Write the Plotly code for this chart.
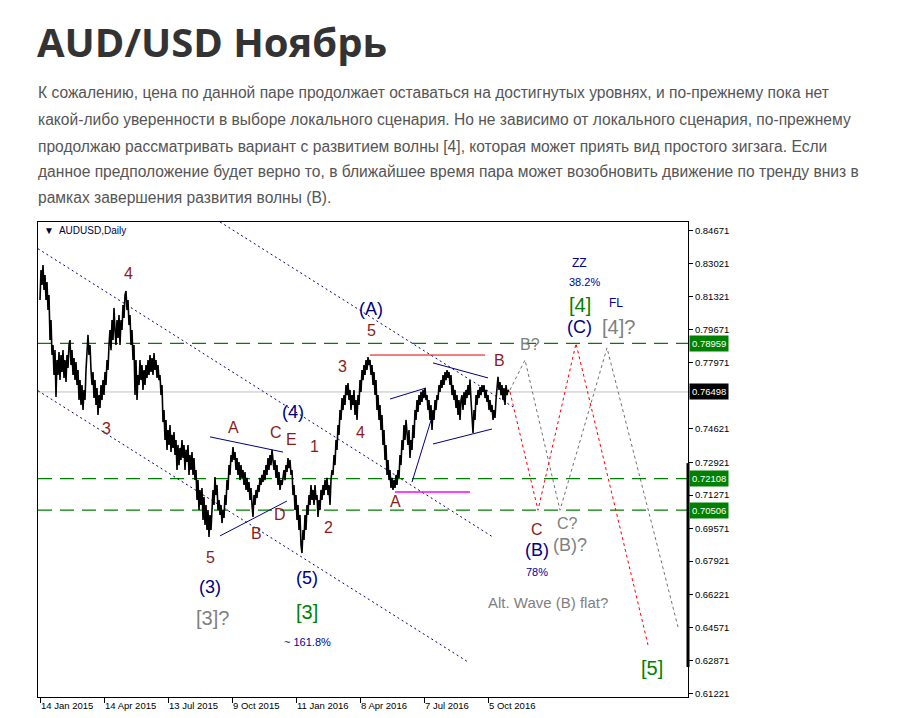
import plotly.graph_objects as go

# ---------------- data (bar index = trading days since 14 Jan 2015) ----------------
prices_part1 = [
    0.8116, 0.8268, 0.8192, 0.8293, 0.8167, 0.8243, 0.8116, 0.8207, 0.8065, 0.8141, 0.7913, 0.8014, 0.7837, 0.7888, 0.7736, 0.7862, 0.7624, 0.7812,
    0.7736, 0.7852, 0.7710, 0.7837, 0.7751, 0.7862, 0.7721, 0.7812, 0.7700, 0.7837, 0.7771, 0.7888, 0.7913, 0.7786, 0.7862, 0.7736, 0.7822, 0.7710,
    0.7802, 0.7685, 0.7761, 0.7609, 0.7710, 0.7584, 0.7685, 0.7558, 0.7660, 0.7609, 0.7761, 0.7862, 0.7939, 0.7837, 0.7888, 0.7761,
    0.7685, 0.7751, 0.7619, 0.7710, 0.7584, 0.7670, 0.7533, 0.7634, 0.7569, 0.7685, 0.7609, 0.7710, 0.7634, 0.7751, 0.7685, 0.7812, 0.7761, 0.7888,
    0.7964, 0.7862, 0.8014, 0.7913, 0.8076, 0.7964, 0.7888, 0.8014,
    0.7923, 0.8040, 0.7888, 0.8014, 0.7964, 0.8091, 0.8025, 0.8141, 0.8162, 0.8065, 0.8116, 0.7989, 0.8040, 0.7888, 0.7964, 0.7812, 0.7888, 0.7634, 0.7812,
    0.7609, 0.7736, 0.7685, 0.7812, 0.7710, 0.7786, 0.7660, 0.7761, 0.7685, 0.7786, 0.7721, 0.7812, 0.7736, 0.7837, 0.7751, 0.7822, 0.7736, 0.7847,
    0.7761, 0.7812, 0.7721, 0.7786, 0.7710, 0.7736, 0.7634, 0.7685,
    0.7497, 0.7558, 0.7406, 0.7508, 0.7356, 0.7457, 0.7381, 0.7482, 0.7345, 0.7432, 0.7366, 0.7447, 0.7330, 0.7406, 0.7254, 0.7381, 0.7279, 0.7366,
    0.7305, 0.7406, 0.7315, 0.7381, 0.7254, 0.7356, 0.7295, 0.7381, 0.7229, 0.7330, 0.7254, 0.7345, 0.7229, 0.7315, 0.7203, 0.7254, 0.7102, 0.7203,
    0.7051, 0.7153, 0.7077, 0.7163, 0.7001, 0.7117, 0.6975, 0.7077, 0.6950, 0.7051, 0.6914, 0.7026, 0.6950, 0.7102,
    0.7153, 0.7077, 0.7219, 0.7127, 0.7178, 0.7051, 0.7102, 0.7026, 0.7077, 0.6985, 0.7051, 0.7011, 0.7127, 0.7077, 0.7203, 0.7153, 0.7279, 0.7229,
    0.7330, 0.7295, 0.7371, 0.7305, 0.7345, 0.7254, 0.7315, 0.7229, 0.7295,
    0.7203, 0.7279, 0.7214, 0.7254, 0.7178, 0.7244, 0.7153, 0.7214, 0.7143, 0.7193, 0.7102, 0.7163, 0.7077, 0.7016, 0.7127, 0.7077, 0.7153,
    0.7112, 0.7178, 0.7143, 0.7214, 0.7178, 0.7229, 0.7193, 0.7254, 0.7203, 0.7279, 0.7229, 0.7315, 0.7254, 0.7330, 0.7279, 0.7356, 0.7295, 0.7254,
    0.7305, 0.7214, 0.7279, 0.7178, 0.7244, 0.7153, 0.7203, 0.7178, 0.7214,
]
prices_part2 = [
    0.7254, 0.7203, 0.7279, 0.7244, 0.7315, 0.7264, 0.7305, 0.7229, 0.7254, 0.7127, 0.7178, 0.7051, 0.7127, 0.7001, 0.7077, 0.6950, 0.7026, 0.6874,
    0.6833, 0.6950, 0.6899, 0.7026, 0.6950, 0.7077,
    0.7026, 0.7127, 0.7077, 0.7178, 0.7102, 0.7153, 0.7077, 0.7178, 0.7102, 0.7127, 0.7016, 0.7102, 0.7051, 0.7153, 0.7102, 0.7178, 0.7127, 0.7203,
    0.7153, 0.7214, 0.7127, 0.7178, 0.7077, 0.7203, 0.7254, 0.7229,
    0.7330, 0.7279, 0.7406, 0.7356, 0.7482, 0.7432, 0.7558, 0.7508, 0.7619, 0.7558, 0.7634, 0.7584, 0.7685, 0.7634, 0.7695, 0.7609, 0.7660, 0.7558,
    0.7634, 0.7584, 0.7660, 0.7533, 0.7609, 0.7508,
    0.7634, 0.7584, 0.7710, 0.7650, 0.7761, 0.7710, 0.7786, 0.7736, 0.7812, 0.7761, 0.7827, 0.7786, 0.7812, 0.7736,
    0.7786, 0.7685, 0.7751, 0.7634, 0.7710, 0.7558, 0.7634, 0.7508, 0.7584, 0.7457, 0.7533, 0.7381, 0.7457, 0.7305, 0.7381, 0.7229, 0.7305, 0.7203,
    0.7254, 0.7163, 0.7214, 0.7153, 0.7203, 0.7163, 0.7229,
    0.7178, 0.7254, 0.7214, 0.7330, 0.7279, 0.7406, 0.7356, 0.7482, 0.7406, 0.7508, 0.7447, 0.7381, 0.7457, 0.7315, 0.7406, 0.7356, 0.7482, 0.7416,
    0.7558, 0.7508, 0.7609, 0.7548, 0.7634, 0.7584,
    0.7650, 0.7599, 0.7660, 0.7619, 0.7670, 0.7609, 0.7634, 0.7558, 0.7609, 0.7508, 0.7584, 0.7457, 0.7558, 0.7508, 0.7609, 0.7558, 0.7634, 0.7609,
    0.7685, 0.7650,
    0.7710, 0.7670, 0.7736, 0.7685, 0.7751, 0.7710, 0.7761, 0.7721, 0.7751, 0.7685, 0.7736, 0.7634, 0.7685, 0.7609, 0.7660, 0.7569, 0.7634, 0.7533,
    0.7609, 0.7508, 0.7609, 0.7634, 0.7558, 0.7650, 0.7584,
    0.7660, 0.7619, 0.7685, 0.7634, 0.7710, 0.7609, 0.7508, 0.7442, 0.7558, 0.7508, 0.7634, 0.7584, 0.7660, 0.7619, 0.7675, 0.7634, 0.7685, 0.7650,
    0.7685, 0.7619, 0.7660, 0.7599, 0.7634, 0.7558, 0.7609,
    0.7548, 0.7584, 0.7508, 0.7558, 0.7518, 0.7609, 0.7685, 0.7726, 0.7660, 0.7700, 0.7634, 0.7685, 0.7609, 0.7670, 0.7584, 0.7685, 0.7634, 0.7660,
    0.7650,
]

date_tick_bars = [0, 64, 128, 192, 256, 320, 384, 448]
date_tick_labels = ["14 Jan 2015", "14 Apr 2015", "13 Jul 2015", "9 Oct 2015",
                    "11 Jan 2016", "8 Apr 2016", "7 Jul 2016", "5 Oct 2016"]
price_ticks = [0.84671, 0.83021, 0.81321, 0.79671, 0.77971, 0.74621, 0.72921,
               0.71271, 0.69571, 0.67921, 0.66221, 0.64571, 0.62871, 0.61221]

level_prices = [0.78959, 0.72108, 0.70506]
current_price = 0.76498

# dotted channel lines
channel_upper_bars, channel_upper_prices = [180, 473], [0.8512, 0.7574]
channel_mid_bars, channel_mid_prices = [-2, 453], [0.8376, 0.6914]
channel_lower_bars, channel_lower_prices = [-2, 428], [0.7656, 0.6281]

# solid trend lines
navy_segments = [
    ([170, 243], [0.7422, 0.7345]),
    ([180, 247], [0.6920, 0.7097]),
    ([393, 448], [0.7797, 0.7721]),
    ([393, 452], [0.7386, 0.7462]),
    ([350, 386], [0.7614, 0.7670]),
    ([372, 392], [0.7193, 0.7523]),
]
red_level_bars, red_level_prices = [330, 445], [0.7837, 0.7837]
magenta_level_bars, magenta_level_prices = [355, 430], [0.7143, 0.7143]

# projected paths
red_path_bars = [470, 498, 536, 608]
red_path_prices = [0.7650, 0.7050, 0.7896, 0.6367]
gray_path_bars = [470, 485, 520, 567, 638]
gray_path_prices = [0.7660, 0.7812, 0.7050, 0.7873, 0.6458]

# wave labels
red_labels = ["4", "3", "5", "A", "C", "E", "B", "D", "1", "2", "3", "5", "4", "A", "B", "C"]
red_label_bars = [88, 66, 170, 193, 236, 251, 216, 240, 274, 288, 302, 331, 320, 355, 459, 497]
red_label_prices = [0.8250, 0.7467, 0.6813, 0.7472, 0.7442, 0.7411, 0.6930, 0.7026, 0.7371, 0.6965,
                    0.7781, 0.7959, 0.7442, 0.7092, 0.7807, 0.6955]
navy_labels = ["(3)", "(4)", "(5)", "(A)", "(B)", "(C)"]
navy_label_bars = [170, 253, 267, 331, 497, 539]
navy_label_prices = [0.6661, 0.7548, 0.6707, 0.8070, 0.6849, 0.7979]
green_labels = ["[3]", "[4]", "[5]"]
green_label_bars = [267, 540, 612]
green_label_prices = [0.6534, 0.8091, 0.6250]
gray_labels = ["[3]?", "[4]?", "B?", "C?", "(B)?"]
gray_label_bars = [172, 578, 490, 527, 530]
gray_label_prices = [0.6504, 0.7979, 0.7888, 0.6985, 0.6874]
note_text, note_bar, note_price = "Alt. Wave (B) flat?", 508, 0.6580
small_labels = ["ZZ", "38.2%", "FL", "78%", "~ 161.8%"]
small_label_bars = [539, 544, 576, 497, 267]
small_label_prices = [0.8304, 0.8207, 0.8101, 0.6737, 0.6382]

title_text = "AUD/USD Ноябрь"
paragraph_lines = [
    "К сожалению, цена по данной паре продолжает оставаться на достигнутых уровнях, и по-прежнему пока нет",
    "какой-либо уверенности в выборе локального сценария. Но не зависимо от локального сценария, по-прежнему",
    "продолжаю рассматривать вариант с развитием волны [4], которая может приять вид простого зигзага. Если",
    "данное предположение будет верно то, в ближайшее время пара может возобновить движение по тренду вниз в",
    "рамках завершения развития волны (B).",
]

# ---------------- figure ----------------
prices = prices_part1 + prices_part2
bars = list(range(len(prices)))

NAVY = "#000080"
MAROON = "#8b1c1c"
GREEN = "#008000"
GRAY = "#808080"
LBL_FONT = "Liberation Sans, Arial, sans-serif"

fig = go.Figure()

shapes = []
for lv in level_prices:
    shapes.append(dict(type="line", xref="paper", x0=0, x1=1, yref="y", y0=lv, y1=lv,
                       line=dict(color=GREEN, width=1.2, dash="14px,8px"), layer="below"))
shapes.append(dict(type="line", xref="paper", x0=0, x1=1, yref="y", y0=current_price, y1=current_price,
                   line=dict(color="#c0c0c0", width=1), layer="below"))

def add_line(xs, ys, color, dash="solid", width=1):
    fig.add_trace(go.Scatter(x=xs, y=ys, mode="lines", line=dict(color=color, width=width, dash=dash),
                             hoverinfo="skip", showlegend=False))

for xs, ys in [(channel_upper_bars, channel_upper_prices), (channel_mid_bars, channel_mid_prices),
               (channel_lower_bars, channel_lower_prices)]:
    add_line(xs, ys, NAVY, dash="2px,3px")
for xs, ys in navy_segments:
    add_line(xs, ys, NAVY)
add_line(red_level_bars, red_level_prices, "#e00000")
add_line(magenta_level_bars, magenta_level_prices, "#ff00ff", width=1.5)
add_line(red_path_bars, red_path_prices, "#ff0000", dash="3px,3px")
add_line(gray_path_bars, gray_path_prices, "#707070", dash="3px,3px")

fig.add_trace(go.Scatter(x=bars, y=prices, mode="lines", line=dict(color="black", width=1.6),
                         hoverinfo="skip", showlegend=False))

annotations = []
def lbl(text, x, y, color, size):
    annotations.append(dict(text=text, x=x, y=y, xref="x", yref="y", showarrow=False,
                            xanchor="center", yanchor="middle",
                            font=dict(family=LBL_FONT, size=size, color=color)))

for t, x, y in zip(red_labels, red_label_bars, red_label_prices):
    lbl(t, x, y, MAROON, 16)
for t, x, y in zip(navy_labels, navy_label_bars, navy_label_prices):
    lbl(t, x, y, NAVY, 18)
for t, x, y in zip(green_labels, green_label_bars, green_label_prices):
    lbl(t, x, y, GREEN, 20)
for t, x, y in zip(gray_labels, gray_label_bars, gray_label_prices):
    lbl(t, x, y, GRAY, 20 if t.startswith("[") else (18 if t.startswith("(") else 16))
lbl(note_text, note_bar, note_price, GRAY, 15)
for t, x, y in zip(small_labels, small_label_bars, small_label_prices):
    lbl(t, x, y, "#000099", 12 if t in ("ZZ", "FL") else 11)

# price boxes on the right axis
for lv, bg in [(level_prices[0], GREEN), (current_price, "black"), (level_prices[1], GREEN), (level_prices[2], GREEN)]:
    annotations.append(dict(text=f"{lv:.5f}", x=1, y=lv, xref="paper", yref="y", showarrow=False,
                            xanchor="left", yanchor="middle", xshift=1, bgcolor=bg, borderpad=2,
                            font=dict(family=LBL_FONT, size=9.5, color="white")))

# chart caption
annotations.append(dict(text="▼  AUDUSD,Daily", x=0.006, y=(697 - 230) / 475, xref="paper", yref="paper",
                        showarrow=False, xanchor="left", yanchor="middle",
                        font=dict(family=LBL_FONT, size=10, color="#000040")))

# page title and paragraph
annotations.append(dict(text=f"<b>{title_text}</b>", x=0, y=(697 - 42) / 475, xref="paper", yref="paper",
                        showarrow=False, xanchor="left", yanchor="middle", xshift=-3,
                        font=dict(family="Open Sans, sans-serif", size=40, color="#333333")))
line_centers = [93, 119.5, 146, 172, 198]
for t, yc in zip(paragraph_lines, line_centers):
    annotations.append(dict(text=t, x=0, y=(697 - yc) / 475, xref="paper", yref="paper",
                            showarrow=False, xanchor="left", yanchor="middle", xshift=-2,
                            font=dict(family="Liberation Sans, Arial, sans-serif", size=15.6, color="#555555")))

# thick marker on price scale
shapes.append(dict(type="line", xref="paper", x0=1, x1=1, yref="y", y0=0.7289, y1=0.6255,
                   line=dict(color="black", width=3)))

# the page body has an 8px margin, so the figure is sized and offset to compensate
fig.update_layout(
    width=893, height=710,
    margin=dict(l=30, r=213, t=214, b=21, autoexpand=False),
    paper_bgcolor="white", plot_bgcolor="white",
    showlegend=False, hovermode=False,
    shapes=shapes, annotations=annotations,
    xaxis=dict(range=[-2, 648], tickvals=date_tick_bars, ticktext=date_tick_labels,
               ticks="outside", ticklen=5, tickcolor="black", ticklabelposition="outside right",
               showgrid=False, zeroline=False, showline=True, mirror=True, linecolor="black", linewidth=1,
               tickfont=dict(family=LBL_FONT, size=9.5, color="black")),
    yaxis=dict(range=[0.61032, 0.85115], side="right", tickvals=price_ticks,
               ticktext=[f"{v:.5f}" for v in price_ticks],
               ticks="outside", ticklen=4, tickcolor="black",
               showgrid=False, zeroline=False, showline=True, mirror=True, linecolor="black", linewidth=1,
               tickfont=dict(family=LBL_FONT, size=9.5, color="black")),
)

fig.write_html("out.html", config={"displayModeBar": False})
